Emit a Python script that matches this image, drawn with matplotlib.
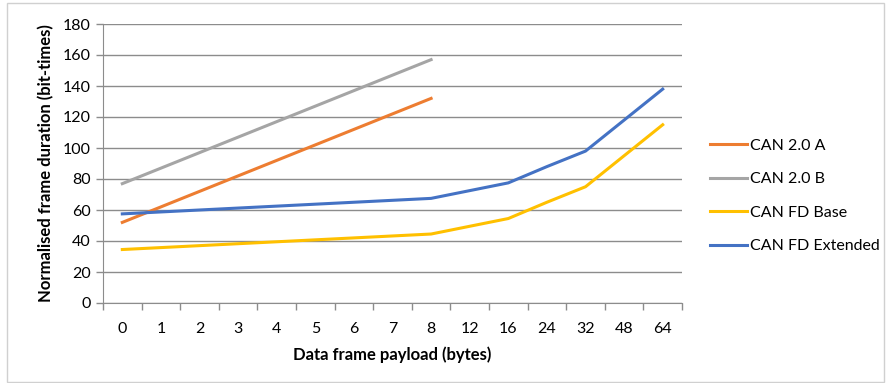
import numpy as np
import matplotlib.pyplot as plt
from matplotlib.patches import Rectangle

plt.rcParams['font.family'] = ['Lato', 'DejaVu Sans']

# Data
payload = ['0', '1', '2', '3', '4', '5', '6', '7', '8', '12', '16', '24', '32', '48', '64']
nan = np.nan
can20a = [52, 62, 72, 82, 92, 102, 112, 122, 132, nan, nan, nan, nan, nan, nan]
can20b = [77, 87, 97, 107, 117, 127, 137, 147, 157, nan, nan, nan, nan, nan, nan]
canfd_base = [34.5, 35.75, 37, 38.25, 39.5, 40.75, 42, 43.25, 44.5, 49.5, 54.5, 65, 75, 95, 115]
canfd_ext = [57.5, 58.75, 60, 61.25, 62.5, 63.75, 65, 66.25, 67.5, 72.5, 77.5, 88, 98, 118, 138]

fig = plt.figure(figsize=(8.86, 3.83), dpi=100)
fig.patches.append(Rectangle((7 / 886, 0.002), 877 / 886, 0.99, transform=fig.transFigure,
                             fill=False, edgecolor='#D0D0D0', linewidth=1))
ax = fig.add_axes([103 / 886, 1 - 303 / 383, 579 / 886, 279 / 383])

x = np.arange(len(payload))
ax.plot(x, can20a, color='#ED7D31', lw=2.2, label='CAN 2.0 A')
ax.plot(x, can20b, color='#A5A5A5', lw=2.2, label='CAN 2.0 B')
ax.plot(x, canfd_base, color='#FFC000', lw=2.2, label='CAN FD Base')
ax.plot(x, canfd_ext, color='#4472C4', lw=2.2, label='CAN FD Extended')

ax.set_xlim(-0.5, len(payload) - 0.5)
ax.set_ylim(0, 180)
ax.set_yticks(range(0, 181, 20))
ax.set_xticks(x)
ax.set_xticklabels(payload)
ax.set_xticks(np.arange(-0.5, len(payload), 1), minor=True)
ax.tick_params(axis='x', which='major', length=0, pad=14, labelsize=11.5)
ax.tick_params(axis='x', which='minor', length=5, color='#8C8C8C', width=1)
ax.tick_params(axis='y', length=5, color='#8C8C8C', width=1, labelsize=11.5, pad=4)

ax.grid(axis='y', color='#8C8C8C', lw=1)
ax.set_axisbelow(True)
for s in ['top', 'right']:
    ax.spines[s].set_visible(False)
ax.spines['left'].set_color('#8C8C8C')
ax.spines['bottom'].set_color('#8C8C8C')

ax.set_xlabel('Data frame payload (bytes)', fontweight='bold', fontsize=12, labelpad=7)
ax.set_ylabel('Normalised frame duration (bit-times)', fontweight='bold', fontsize=12, labelpad=6)

fig.legend(loc='center left', bbox_to_anchor=(710 / 886, 1 - 196 / 383), frameon=False,
           fontsize=11.5, handlelength=2.3, handletextpad=0.2, labelspacing=1.2,
           borderpad=0, borderaxespad=0)

fig.savefig('out.png', dpi=100)
